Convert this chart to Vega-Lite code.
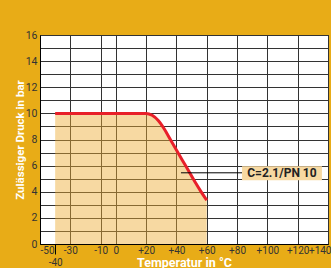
{
  "$schema": "https://vega.github.io/schema/vega-lite/v6.json",
  "width": 288,
  "height": 209,
  "autosize": {"type": "none"},
  "padding": {"left": 40, "top": 35, "right": 3, "bottom": 24},
  "background": "#E8AC17",
  "config": {
    "view": {"fill": "white", "stroke": "#222", "strokeWidth": 1},
    "font": "Roboto"
  },
  "datasets": {
    "curve": [
      {"t": -40, "p": 10},
      {"t": 20, "p": 10},
      {"t": 24, "p": 9.85},
      {"t": 28, "p": 9.45},
      {"t": 32, "p": 8.8},
      {"t": 36, "p": 8.0},
      {"t": 40, "p": 7.2},
      {"t": 44, "p": 6.4},
      {"t": 48, "p": 5.6},
      {"t": 52, "p": 4.8},
      {"t": 56, "p": 4.05},
      {"t": 60, "p": 3.35}
    ],
    "leader": [{"t": 43, "t2": 83.3, "p": 5.45}],
    "box": [{"t": 83.3, "t2": 136, "p": 4.88, "p2": 5.95}],
    "label": [{"t": 109.6, "p": 5.42, "label": "C=2.1/PN 10"}]
  },
  "encoding": {
    "x": {
      "field": "t", "type": "quantitative",
      "scale": {"domain": [-50, 140], "nice": false, "zero": false},
      "axis": {
        "values": [-50, -40, -30, -10, 0, 20, 40, 60, 80, 100, 120, 140],
        "labelExpr": "(datum.value > 0 ? '+' : '') + datum.value",
        "title": "Temperatur in °C",
        "titleColor": "white",
        "titleFont": "Roboto",
        "titleFontSize": 12.5,
        "titleFontWeight": "bold",
        "titleX": 144,
        "titleY": 18,
        "titleBaseline": "middle",
        "titleAlign": "center",
        "labelFlush": true,
        "labelOverlap": false,
        "labelColor": "#333",
        "labelFontSize": 10,
        "labelOffset": {"condition": {"test": "datum.value == 140", "value": 3}, "value": 0},
        "domainColor": "black",
        "tickSize": 10,
        "tickColor": "black",
        "tickOpacity": {"condition": {"test": "datum.value == -40", "value": 1}, "value": 0},
        "labelPadding": {"condition": {"test": "datum.value == -40", "value": 3}, "value": -9},
        "gridColor": "#333",
        "gridOpacity": {"condition": {"test": "datum.value == -40", "value": 0}, "value": 1}
      }
    },
    "y": {
      "field": "p", "type": "quantitative",
      "scale": {"domain": [0, 16], "nice": false},
      "axis": {
        "values": [0, 1, 2, 3, 4, 5, 6, 7, 8, 9, 10, 11, 12, 13, 14, 15, 16],
        "labelExpr": "datum.value % 2 == 0 ? '' + datum.value : ''",
        "labelOverlap": false,
        "title": "Zulässiger Druck in bar",
        "titleColor": "white",
        "titleFont": "Roboto",
        "titleFontSize": 11.5,
        "titleFontWeight": "bold",
        "titleX": -20,
        "titleY": 104.5,
        "titleAngle": -90,
        "titleAlign": "center",
        "titleBaseline": "middle",
        "ticks": false,
        "labelPadding": 3,
        "labelColor": "#333",
        "labelFontSize": 10.5,
        "domainColor": "black",
        "gridColor": "#333"
      }
    }
  },
  "layer": [
    {
      "data": {"name": "curve"},
      "mark": {"type": "area", "color": "#EDAA30", "opacity": 0.45, "interpolate": "monotone"}
    },
    {
      "data": {"name": "curve"},
      "mark": {"type": "line", "color": "#E8202A", "strokeWidth": 3, "interpolate": "monotone"}
    },
    {
      "data": {"name": "leader"},
      "mark": {"type": "rule", "color": "black", "strokeWidth": 1},
      "encoding": {"x2": {"field": "t2"}}
    },
    {
      "data": {"name": "box"},
      "mark": {"type": "rect", "color": "#F7D9A2"},
      "encoding": {"x2": {"field": "t2"}, "y2": {"field": "p2"}}
    },
    {
      "data": {"name": "label"},
      "mark": {"type": "text", "font": "Roboto", "fontSize": 12, "fontWeight": "bold", "color": "#222", "align": "center", "baseline": "middle"},
      "encoding": {"text": {"field": "label"}}
    }
  ]
}
